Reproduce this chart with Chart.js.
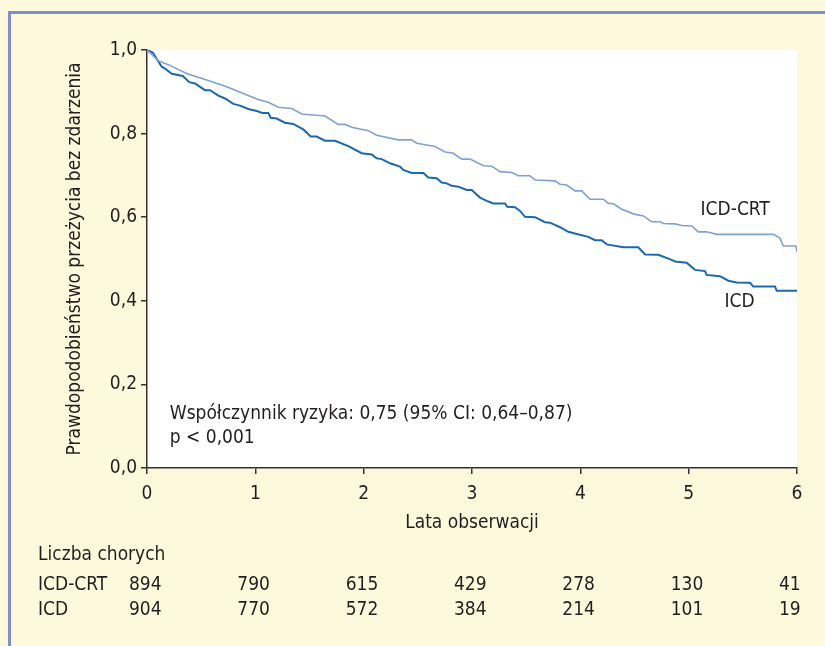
<!DOCTYPE html>
<html>
<head>
<meta charset="utf-8">
<script src="https://cdn.jsdelivr.net/npm/chart.js@4"></script>
<style>
    body { margin: 0; background: #fef9dc; }
    #frame {
        position: absolute; left: 8px; top: 11px; width: 817px; height: 635px;
        border-left: 3px solid #7f90c6; border-top: 3px solid #7f90c6;
    }
    #km { position: absolute; left: 0; top: 0; }
</style>
</head>
<body>
<div id="frame"></div>
<canvas id="km" width="825" height="646"></canvas>
<script>
// Krzywe Kaplana-Meiera (lata, prawdopodobieństwo)
const crtYears = [0, 0.104, 0.197, 0.366, 0.551, 0.736, 0.889, 1.013, 1.120, 1.212, 1.336, 1.428, 1.505, 1.643, 1.766, 1.828, 1.890, 2.043, 2.120, 2.320, 2.443, 2.489, 2.659, 2.751, 2.828, 2.905, 2.982, 3.105, 3.182, 3.259, 3.366, 3.428, 3.535, 3.582, 3.766, 3.812, 3.874, 3.951, 4.013, 4.089, 4.212, 4.259, 4.305, 4.382, 4.489, 4.582, 4.659, 4.736, 4.766, 4.874, 4.936, 5.028, 5.089, 5.166, 5.259, 5.782, 5.843, 5.874, 5.990, 6.0];
const crtSurvival = [1.0, 0.974, 0.965, 0.944, 0.928, 0.912, 0.896, 0.883, 0.875, 0.863, 0.860, 0.847, 0.845, 0.842, 0.822, 0.822, 0.815, 0.807, 0.796, 0.785, 0.785, 0.777, 0.769, 0.756, 0.753, 0.739, 0.739, 0.723, 0.722, 0.709, 0.707, 0.699, 0.699, 0.689, 0.687, 0.679, 0.677, 0.663, 0.663, 0.643, 0.643, 0.633, 0.632, 0.619, 0.608, 0.603, 0.589, 0.589, 0.585, 0.584, 0.580, 0.579, 0.565, 0.565, 0.559, 0.559, 0.550, 0.531, 0.531, 0.517];

const icdYears = [0, 0.053, 0.136, 0.175, 0.228, 0.330, 0.390, 0.443, 0.535, 0.582, 0.658, 0.720, 0.797, 0.858, 0.935, 1.013, 1.068, 1.120, 1.142, 1.197, 1.274, 1.350, 1.443, 1.511, 1.566, 1.643, 1.735, 1.858, 1.982, 2.074, 2.120, 2.167, 2.243, 2.335, 2.366, 2.443, 2.551, 2.597, 2.674, 2.720, 2.767, 2.813, 2.874, 2.951, 2.997, 3.074, 3.136, 3.197, 3.305, 3.326, 3.397, 3.443, 3.489, 3.582, 3.674, 3.720, 3.812, 3.889, 3.967, 4.074, 4.136, 4.197, 4.243, 4.397, 4.535, 4.597, 4.720, 4.843, 4.874, 4.982, 5.058, 5.151, 5.166, 5.289, 5.366, 5.443, 5.566, 5.597, 5.797, 5.813, 6.0];
const icdSurvival = [1.0, 0.994, 0.960, 0.954, 0.943, 0.938, 0.923, 0.920, 0.904, 0.904, 0.891, 0.884, 0.871, 0.867, 0.859, 0.854, 0.849, 0.849, 0.838, 0.836, 0.826, 0.823, 0.810, 0.793, 0.793, 0.783, 0.783, 0.770, 0.753, 0.750, 0.741, 0.739, 0.729, 0.721, 0.713, 0.706, 0.706, 0.695, 0.693, 0.683, 0.681, 0.675, 0.673, 0.665, 0.665, 0.647, 0.639, 0.633, 0.633, 0.625, 0.624, 0.615, 0.601, 0.600, 0.588, 0.587, 0.576, 0.565, 0.560, 0.553, 0.545, 0.545, 0.535, 0.528, 0.528, 0.511, 0.510, 0.498, 0.494, 0.491, 0.474, 0.471, 0.462, 0.459, 0.448, 0.444, 0.443, 0.434, 0.434, 0.424, 0.424];

// Liczba chorych w punktach czasowych
const riskTimes = [0, 1, 2, 3, 4, 5, 6];
const atRiskCrt = [894, 790, 615, 429, 278, 130, 41];
const atRiskIcd = [904, 770, 572, 384, 214, 101, 19];

const yTicks = [0, 0.2, 0.4, 0.6, 0.8, 1.0];

const FONT = "'DejaVu Sans Condensed', 'Liberation Sans', sans-serif";
const INK = '#231f20';

function toPoints(xs, ys) {
    return xs.map((x, i) => ({ x: x, y: ys[i] }));
}

const paperPlugin = {
    id: 'paper',
    beforeDraw(chart) {
        const ctx = chart.ctx;
        const a = chart.chartArea;
        ctx.save();
        ctx.fillStyle = '#ffffff';
        ctx.fillRect(a.left, a.top, a.right - a.left, a.bottom - a.top);
        ctx.restore();
    }
};

const textPlugin = {
    id: 'texts',
    afterDraw(chart) {
        const ctx = chart.ctx;
        const xs = chart.scales.x;
        const ys = chart.scales.y;
        ctx.save();
        ctx.fillStyle = INK;
        ctx.font = '19px ' + FONT;
        ctx.textBaseline = 'middle';
        ctx.textAlign = 'left';

        // etykiety krzywych
        ctx.fillText('ICD-CRT', xs.getPixelForValue(5.11), ys.getPixelForValue(0.617));
        ctx.fillText('ICD', xs.getPixelForValue(5.33), ys.getPixelForValue(0.397));

        // wynik testu
        ctx.fillText('Współczynnik ryzyka: 0,75 (95% CI: 0,64–0,87)', xs.getPixelForValue(0.21), ys.getPixelForValue(0.129));
        ctx.fillText('p < 0,001', xs.getPixelForValue(0.21), ys.getPixelForValue(0.072));

        // tabela liczby chorych
        ctx.fillText('Liczba chorych', 38, 555);
        ctx.fillText('ICD-CRT', 38, 585);
        ctx.fillText('ICD', 38, 610);
        riskTimes.forEach((t, i) => {
            const px = xs.getPixelForValue(t) - 18;
            ctx.fillText(String(atRiskCrt[i]), px, 585);
            ctx.fillText(String(atRiskIcd[i]), px, 610);
        });
        ctx.restore();
    }
};

new Chart(document.getElementById('km').getContext('2d'), {
    type: 'line',
    data: {
        datasets: [
            {
                label: 'ICD-CRT',
                data: toPoints(crtYears, crtSurvival),
                borderColor: '#7fa1d4',
                borderWidth: 1.6,
                pointRadius: 0,
                tension: 0,
                fill: false
            },
            {
                label: 'ICD',
                data: toPoints(icdYears, icdSurvival),
                borderColor: '#1c68ad',
                borderWidth: 2,
                pointRadius: 0,
                tension: 0,
                fill: false
            }
        ]
    },
    options: {
        responsive: false,
        animation: false,
        layout: {
            padding: { left: 64, right: 28, top: 50, bottom: 112 }
        },
        plugins: {
            legend: { display: false },
            tooltip: { enabled: false }
        },
        scales: {
            x: {
                type: 'linear',
                min: 0,
                max: 6,
                afterFit(scale) { scale.height = 66; },
                ticks: {
                    stepSize: 1,
                    padding: 9,
                    color: INK,
                    font: { family: FONT, size: 19 },
                    maxRotation: 0
                },
                grid: { display: true, drawOnChartArea: false, drawTicks: true, tickLength: 6, color: '#333333', lineWidth: 1.5 },
                border: { display: true, color: '#333333', width: 1.5 },
                title: {
                    display: true,
                    text: 'Lata obserwacji',
                    color: INK,
                    font: { family: FONT, size: 19 },
                    padding: { top: 0, bottom: 0 }
                }
            },
            y: {
                min: 0,
                max: 1,
                afterFit(scale) { scale.width = 83; },
                afterBuildTicks(scale) {
                    scale.ticks = yTicks.map(v => ({ value: v }));
                },
                ticks: {
                    padding: 4,
                    color: INK,
                    font: { family: FONT, size: 19 },
                    callback: v => v.toFixed(1).replace('.', ',')
                },
                grid: { display: true, drawOnChartArea: false, drawTicks: true, tickLength: 6, color: '#333333', lineWidth: 1.5 },
                border: { display: true, color: '#333333', width: 1.5 },
                title: {
                    display: true,
                    text: 'Prawdopodobieństwo przeżycia bez zdarzenia',
                    color: INK,
                    font: { family: FONT, size: 19 },
                    padding: { top: 0, bottom: 0 }
                }
            }
        }
    },
    plugins: [paperPlugin, textPlugin]
});
</script>
</body>
</html>
